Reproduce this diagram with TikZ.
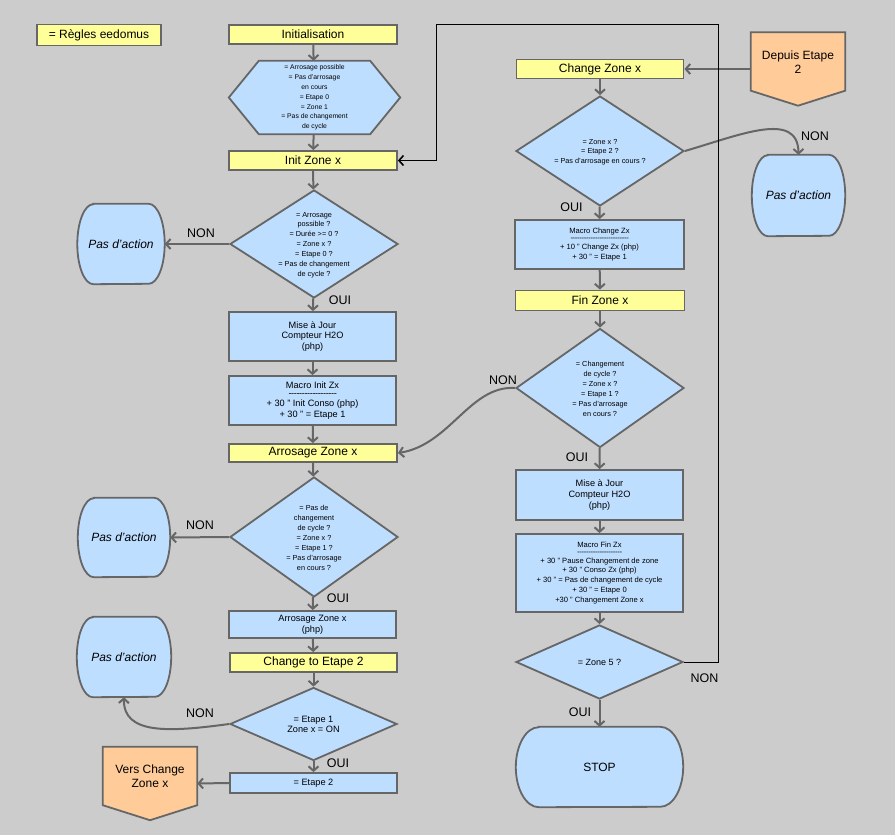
\documentclass[tikz,border=0pt]{standalone}
\usepackage{fontspec}
\setmainfont{Liberation Sans}
\usetikzlibrary{shapes.geometric,arrows.meta}
\definecolor{bgc}{RGB}{204,204,204}
\definecolor{lnc}{RGB}{102,102,102}
\definecolor{yelc}{RGB}{255,255,153}
\definecolor{bluc}{RGB}{190,222,255}
\definecolor{orac}{RGB}{255,204,153}
\newcommand\hya{-\kern-0.4pt}
\newcommand\hyb{-\kern-0.3pt}
% terminal shape drawn round a holder node: #1 name, #2 side bulge, #3 half height
\newcommand\tshape[3]{%
  \draw[shp, fill=bluc] ([xshift=#2]#1.north west) -- ([xshift=-#2]#1.north east)
    arc[start angle=90, end angle=-90, x radius=#2, y radius=#3]
    -- ([xshift=#2]#1.south west)
    arc[start angle=270, end angle=90, x radius=#2, y radius=#3] -- cycle;}
\begin{document}
\begin{tikzpicture}[x=1pt,y=-1pt,
  yel/.style={draw=lnc, line width=1.8pt, fill=yelc, minimum width=168pt, minimum height=19pt, inner sep=0pt, font=\fontsize{12}{14}\selectfont},
  blu/.style={draw=lnc, line width=1.8pt, fill=bluc, inner sep=0pt, align=center},
  dia/.style={diamond, draw=lnc, line width=1.8pt, fill=bluc, inner sep=0pt},
  shp/.style={draw=lnc, line width=1.8pt, line join=miter},
  txt/.style={inner sep=0pt, align=center},
  term/.style={inner sep=0pt, font=\fontsize{12}{14}\selectfont\itshape},
  lab/.style={inner sep=0pt, font=\fontsize{12.5}{14}\selectfont},
  arr/.style={draw=lnc, line width=2pt, -{Straight Barb[length=4.5pt,width=10pt]}},
  blk/.style={draw=black, line width=1pt, -{Straight Barb[length=4.5pt,width=10pt,line width=1.6pt]}},
  fsA/.style={font=\fontsize{7.3}{9.9}\selectfont},
  fsB/.style={font=\fontsize{9.2}{10.8}\selectfont},
  fsC/.style={font=\fontsize{7.6}{9.8}\selectfont}
]
\fill[bgc] (0,0) rectangle (895,835);

% ---------------- left column
\node[yel, minimum width=124pt, minimum height=21pt] (leg) at (99,35) {= Règles eedomus};
\node[yel] (init) at (313,34.5) {Initialisation};

\node[inner sep=0pt, minimum width=171pt, minimum height=73pt] (hex) at (314.5,97.5) {};
\draw[shp, fill=bluc] (hex.west) -- ([xshift=30pt]hex.north west) -- ([xshift=-30pt]hex.north east) -- (hex.east) -- ([xshift=-30pt]hex.south east) -- ([xshift=30pt]hex.south west) -- cycle;
\node[txt, font=\fontsize{6.8}{9.8}\selectfont] (hext) at (hex) {= Arrosage possible\\= Pas d'arrosage\\en cours\\= Etape 0\\= Zone 1\\= Pas de changement\\de cycle};

\node[yel] (izx) at (313,160.5) {Init Zone x};

\node[dia, minimum width=168pt, minimum height=108pt] (d1) at (314,244) {};
\node[txt, fsA] (d1t) at (314,245) {= Arrosage\\possible ?\\= Durée >= 0 ?\\= Zone x ?\\= Etape 0 ?\\= Pas de changement\\de cycle ?};
\node[term, minimum width=87pt, minimum height=80pt] (pa1) at (121,244) {};
\tshape{pa1}{16pt}{40pt}
\node[term] (pa1t) at (pa1) {Pas d'action};

\node[blu, fsB, minimum width=167pt, minimum height=49pt] (mise1) at (312.5,336.5) {Mise à Jour\\Compteur H2O\\(php)};
\node[blu, fsB, minimum width=167pt, minimum height=49pt] (mac1) at (312.5,400.5) {Macro Init Zx\\[-3pt]\hya\hya\hya\hya\hya\hya\hya\hya\hya\hya\hya\hya\hya\hya\hya\hya\hya\hya\\[-1pt]+ 30 " Init Conso (php)\\+ 30 " = Etape 1};
\node[yel, minimum height=18pt] (azx) at (313,453) {Arrosage Zone x};

\node[dia, minimum width=168pt, minimum height=120pt] (d2) at (314,537) {};
\node[txt, fsA] (d2t) at (314,538) {= Pas de\\changement\\de cycle ?\\= Zone x ?\\= Etape 1 ?\\= Pas d'arrosage\\en cours ?};
\node[term, minimum width=92pt, minimum height=79pt] (pa2) at (124,537.5) {};
\tshape{pa2}{16pt}{39.5pt}
\node[term] (pa2t) at (pa2) {Pas d'action};

\node[blu, fsB, minimum width=167pt, minimum height=27pt] (azp) at (312.5,624.5) {Arrosage Zone x\\(php)};
\node[yel, minimum width=167pt] (cte) at (313.5,662.5) {Change to Etape 2};

\node[dia, minimum width=167pt, minimum height=73pt] (d3) at (313.5,724) {};
\node[txt, font=\fontsize{9.2}{10.5}\selectfont] (d3t) at (313.5,724.5) {= Etape 1\\Zone x = ON};
\node[term, minimum width=94pt, minimum height=80pt] (pa3) at (124,657) {};
\tshape{pa3}{16pt}{40pt}
\node[term] (pa3t) at (pa3) {Pas d'action};

\node[blu, fsB, minimum width=167pt, minimum height=20pt] (e2) at (313.5,783) {= Etape 2};

\node[inner sep=0pt, minimum width=94pt, minimum height=73pt] (vers) at (150,783.5) {};
\draw[shp, fill=orac] (vers.north west) -- (vers.north east) -- ([yshift=15pt]vers.south east) -- (vers.south) -- ([yshift=15pt]vers.south west) -- cycle;
\node[txt, font=\fontsize{12}{14.5}\selectfont] (verst) at (150,776) {Vers Change\\Zone x};

% ---------------- right column
\node[yel, minimum width=167pt] (czx) at (600,69) {Change Zone x};
\node[inner sep=0pt, minimum width=94pt, minimum height=73pt] (dep) at (798,69) {};
\draw[shp, fill=orac] (dep.north west) -- (dep.north east) -- ([yshift=15pt]dep.south east) -- (dep.south) -- ([yshift=15pt]dep.south west) -- cycle;
\node[txt, font=\fontsize{12}{14.5}\selectfont] (dept) at (798,62) {Depuis Etape\\2};

\node[dia, minimum width=168pt, minimum height=110pt] (d4) at (600,151) {};
\node[txt, font=\fontsize{7.3}{9.5}\selectfont] (d4t) at (600,152) {= Zone x ?\\= Etape 2 ?\\= Pas d'arrosage en cours ?};
\node[term, minimum width=93pt, minimum height=81pt] (pa4) at (798.5,195.5) {};
\tshape{pa4}{16pt}{40.5pt}
\node[term] (pa4t) at (pa4) {Pas d'action};

\node[blu, fsC, minimum width=169pt, minimum height=49pt] (mcz) at (599.5,244.5) {Macro Change Zx\\[-3pt]\hyb\hyb\hyb\hyb\hyb\hyb\hyb\hyb\hyb\hyb\hyb\hyb\hyb\hyb\hyb\hyb\hyb\hyb\hyb\hyb\hyb\hyb\hyb\hyb\hyb\hyb\\[-1pt]+ 10 " Change Zx (php)\\+ 30 " = Etape 1};
\node[yel, minimum width=169pt, minimum height=20pt] (fzx) at (600,300.5) {Fin Zone x};

\node[dia, minimum width=168pt, minimum height=119pt] (d5) at (600,388) {};
\node[txt, fsA] (d5t) at (600,389) {= Changement\\de cycle ?\\= Zone x ?\\= Etape 1 ?\\= Pas d'arrosage\\en cours ?};

\node[blu, fsB, minimum width=167pt, minimum height=50pt] (mise2) at (599.5,495) {Mise à Jour\\Compteur H2O\\(php)};
\node[blu, fsC, minimum width=167pt, minimum height=78pt] (mfz) at (599.5,573) {Macro Fin Zx\\[-3pt]\hyb\hyb\hyb\hyb\hyb\hyb\hyb\hyb\hyb\hyb\hyb\hyb\hyb\hyb\hyb\hyb\hyb\hyb\hyb\hyb\\[-1pt]+ 30 " Pause Changement de zone\\+ 30 " Conso Zx (php)\\+ 30 " = Pas de changement de cycle\\+ 30 " = Etape 0\\+30 " Changement Zone x};

\node[dia, minimum width=167pt, minimum height=74pt] (d6) at (599.5,662) {};
\node[txt, font=\fontsize{9}{10.5}\selectfont] (d6t) at (599.5,662.5) {= Zone 5 ?};
\node[term, minimum width=167pt, minimum height=80pt] (stop) at (599.5,767) {};
\tshape{stop}{23pt}{40pt}
\node[txt, font=\fontsize{12}{14}\selectfont] (stopt) at (stop) {STOP};

% ---------------- labels
\node[lab] (n1) at (201,233) {NON};
\node[lab] (o1) at (340,300) {OUI};
\node[lab] (n2) at (200,525) {NON};
\node[lab] (o2) at (338,598) {OUI};
\node[lab] (n3) at (200,713) {NON};
\node[lab] (o3) at (338,763) {OUI};
\node[lab] (n4) at (815,136) {NON};
\node[lab] (o4) at (571.5,207) {OUI};
\node[lab] (n5) at (503,380) {NON};
\node[lab] (o5) at (577,457) {OUI};
\node[lab] (n6) at (704.5,678) {NON};
\node[lab] (o6) at (580,712) {OUI};

% ---------------- connectors
\draw[arr] (init) -- (hex);
\draw[arr] (hex) -- (izx);
\draw[arr] (izx) -- (d1);
\draw[arr] (d1) -- (mise1);
\draw[arr] (mise1) -- (mac1);
\draw[arr] (mac1) -- (azx);
\draw[arr] (azx) -- (d2);
\draw[arr] (d2) -- (azp);
\draw[arr] (azp) -- (cte);
\draw[arr] (cte) -- (d3);
\draw[arr] (d3) -- (e2);
\draw[arr] (d1.west) -- (pa1.east);
\draw[arr] (d2.west) -- (pa2.east);
\draw[arr] (d3.west) .. controls (170,732) and (123,735) .. (pa3.south);
\draw[arr] (e2.west) -- (vers.east);

\draw[arr] (dep.west) -- (czx.east);
\draw[arr] (czx) -- (d4);
\draw[arr] (d4) -- (mcz);
\draw[arr] (mcz) -- (fzx);
\draw[arr] (fzx) -- (d5);
\draw[arr] (d5) -- (mise2);
\draw[arr] (mise2) -- (mfz);
\draw[arr] (mfz) -- (d6);
\draw[arr] (d6) -- (stop);
\draw[arr] (d4.east) .. controls (740,135) and (798,110) .. (pa4.north);
\draw[arr] (d5.west) .. controls (470,385) and (450,445) .. (azx.east);

\coordinate (c1) at (718,662);
\coordinate (c2) at (718,24.5);
\coordinate (c3) at (436.5,24.5);
\coordinate (c4) at (436.5,160.5);
\draw[blk] (d6.east) -- (c1) -- (c2) -- (c3) -- (c4) -- (izx.east);
\end{tikzpicture}
\end{document}
